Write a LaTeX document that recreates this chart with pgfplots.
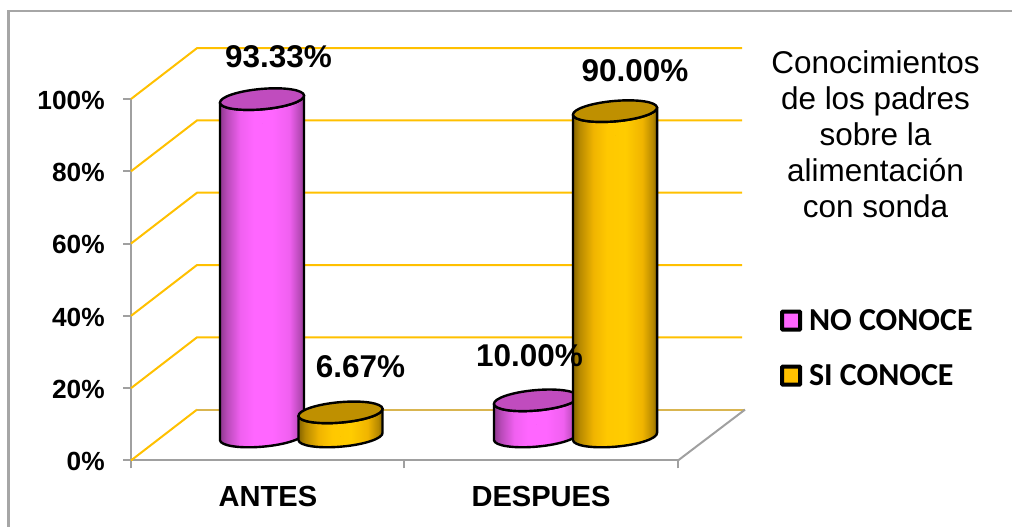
\documentclass[border=0pt]{standalone}
\usepackage{fontspec}
\setmainfont{Liberation Sans}
\newfontfamily\carlito{Carlito}
\usepackage{pgfplots}
\pgfplotsset{compat=1.18}

\definecolor{wallgold}{HTML}{FFC000}
\definecolor{floorgold}{HTML}{D9B550}
\definecolor{axisgray}{HTML}{A0A0A0}
\definecolor{framegray}{HTML}{A6A6A6}
\definecolor{pinkcap}{HTML}{C04CBE}
\definecolor{goldcap}{HTML}{BF9000}
\definecolor{pinkflat}{HTML}{FF66FF}
\definecolor{pA}{HTML}{8E388E}
\definecolor{pB}{HTML}{B84AB8}
\definecolor{pC}{HTML}{F060F0}
\definecolor{gA}{HTML}{856400}
\definecolor{gB}{HTML}{B88A00}
\definecolor{gC}{HTML}{F0B400}
\definecolor{gD}{HTML}{FFC800}
\definecolor{gE}{HTML}{FFCC00}

% Cylinder side shadings: dark rims, bright centre
\pgfdeclarehorizontalshading{pinkside}{100bp}{
  color(0bp)=(pA); color(25bp)=(pA); color(29bp)=(pB);
  color(37bp)=(pC); color(45bp)=(pinkflat); color(56bp)=(pinkflat);
  color(66bp)=(pC); color(72bp)=(pB); color(75bp)=(pA); color(100bp)=(pA)}
\pgfdeclarehorizontalshading{goldside}{100bp}{
  color(0bp)=(gA); color(25bp)=(gA); color(29bp)=(gB);
  color(37bp)=(gC); color(45bp)=(gD); color(56bp)=(gE);
  color(66bp)=(gC); color(72bp)=(gB); color(75bp)=(gA); color(100bp)=(gA)}

% 1 px of the drawing = 0.75 pt
\newcommand{\px}[2]{({#1*0.75pt},{(527-#2)*0.75pt})}

% A cylinder whose height comes from the plotted value. The mark sits at the
% value on the front plane; the solid stands 24 px behind it on the floor.
% Ellipses lean 5 degrees and are written as four Bezier segments.
\pgfplotsset{
  cylinder bar/.style n args={3}{
    only marks, scatter, mark=*, mark size=0pt,
    mark options={draw=none, fill=none},
    visualization depends on=rawy \as \val,
    scatter/@pre marker code/.code={%
      \pgfmathsetmacro\hy{\val*3.615}%
      \begin{scope}[x=0.75pt,y=0.75pt]
        \path[draw=black,line width=1.8pt,line join=round,shading=#1]
          (-42.04,{24-3.68}) -- (-42.04,{24-3.68-\hy})
          .. controls (-41.55,{24-9.29-\hy}) and (-22.33,{24-12.19-\hy}) .. (0.889,{24-10.16-\hy})
          .. controls (24.11,{24-8.13-\hy}) and (42.53,{24-1.93-\hy}) .. (42.04,{24+3.68-\hy})
          -- (42.04,{24+3.68})
          .. controls (42.53,{24-1.93}) and (24.11,{24-8.13}) .. (0.889,{24-10.16})
          .. controls (-22.33,{24-12.19}) and (-41.55,{24-9.29}) .. (-42.04,{24-3.68}) -- cycle;
        \path[draw=black,line width=1.8pt,fill=#2]
          (42.04,{24+3.68})
          .. controls (41.55,{24+9.29}) and (22.33,{24+12.19}) .. (-0.889,{24+10.16})
          .. controls (-24.11,{24+8.13}) and (-42.53,{24+1.93}) .. (-42.04,{24-3.68})
          .. controls (-41.55,{24-9.29}) and (-22.33,{24-12.19}) .. (0.889,{24-10.16})
          .. controls (24.11,{24-8.13}) and (42.53,{24-1.93}) .. (42.04,{24+3.68}) -- cycle;
      \end{scope}%
    },
    scatter/@post marker code/.code={},
    legend image code/.code={%
      \draw[line width=3pt,draw=black,fill=#3,rounded corners=0.6pt]
        (0pt,-6.8pt) rectangle (13.6pt,6.8pt);
    },
  }
}

\begin{document}
\begin{tikzpicture}
  \useasboundingbox (0,0) rectangle (759pt,395.25pt);

  % outer frame, running off the page on the right and at the bottom
  \draw[framegray,line width=1.6pt] (6.4pt,0) -- (6.4pt,387pt) -- (759pt,387pt);

  \begin{axis}[
    at={(98.25pt,49.9pt)}, anchor=origin,
    scale only axis, width=410.25pt, height=271.1pt,
    xmin=131, xmax=678, ymin=0, ymax=100,
    clip=false,
    axis lines=left,
    axis line style={-,draw=axisgray,line width=1.5pt},
    tick style={draw=axisgray,line width=1.5pt},
    tick align=outside,
    major tick length=6pt,
    minor tick length=6pt,
    ytick={0,20,40,60,80,100},
    yticklabels={0\%,20\%,40\%,60\%,80\%,100\%},
    xtick={268,541},
    xticklabels={ANTES,DESPUES},
    minor xtick={131,404,678},
    x tick style={draw=none},
    minor x tick style={draw=axisgray,line width=1.5pt},
    yticklabel style={font=\fontsize{19.7}{22}\selectfont\bfseries,anchor=east,xshift=-10.25pt,yshift=-1pt},
    xticklabel style={font=\fontsize{21.8}{24}\selectfont\bfseries,anchor=base,yshift=-28.25pt},
    legend style={
      at={(axis cs:780,42.6)}, anchor=north west, draw=none, fill=none,
      font=\fontsize{24}{26}\selectfont\carlito\bfseries,
      row sep=20pt, inner sep=0pt, outer sep=0pt,
      /tikz/every odd column/.style={column sep=3.2pt},
    },
    legend cell align=left,
  ]
    % back wall gridlines and floor edges
    \addplot[forget plot,wallgold,line width=1.5pt] coordinates {(131,20)(197,34.07)(742,34.07)};
    \addplot[forget plot,wallgold,line width=1.5pt] coordinates {(131,40)(197,54.07)(742,54.07)};
    \addplot[forget plot,wallgold,line width=1.5pt] coordinates {(131,60)(197,74.07)(742,74.07)};
    \addplot[forget plot,wallgold,line width=1.5pt] coordinates {(131,80)(197,94.07)(742,94.07)};
    \addplot[forget plot,wallgold,line width=1.5pt] coordinates {(131,100)(197,114.07)(742,114.07)};
    \addplot[forget plot,wallgold,line width=1.5pt] coordinates {(131,0)(197,14.07)};
    \addplot[forget plot,floorgold,line width=1.5pt] coordinates {(197,14.07)(745,14.07)};
    \addplot[forget plot,axisgray,line width=1.5pt] coordinates {(678,0)(745,14.07)};

    \addplot[cylinder bar={pinkside}{pinkcap}{pinkflat}] coordinates {(262,93.33)(536,10.00)};
    \addlegendentry{NO CONOCE}
    \addplot[cylinder bar={goldside}{goldcap}{wallgold}] coordinates {(340.5,6.67)(615,90.00)};
    \addlegendentry{SI CONOCE}
  \end{axis}

  % value labels
  \begin{scope}[every node/.style={font=\fontsize{23.6}{27}\selectfont\bfseries,anchor=base,inner sep=0pt}]
    \node at \px{278.5}{68} {93.33\%};
    \node at \px{360.5}{378} {6.67\%};
    \node at \px{529.5}{367} {10.00\%};
    \node at \px{635}{82} {90.00\%};
  \end{scope}

  % chart heading
  \node[align=center,font=\fontsize{23.6}{27}\selectfont,anchor=north,inner sep=0pt]
    at \px{875.5}{50.5} {Conocimientos\\de los padres\\sobre la\\alimentación\\con sonda};
\end{tikzpicture}
\end{document}
